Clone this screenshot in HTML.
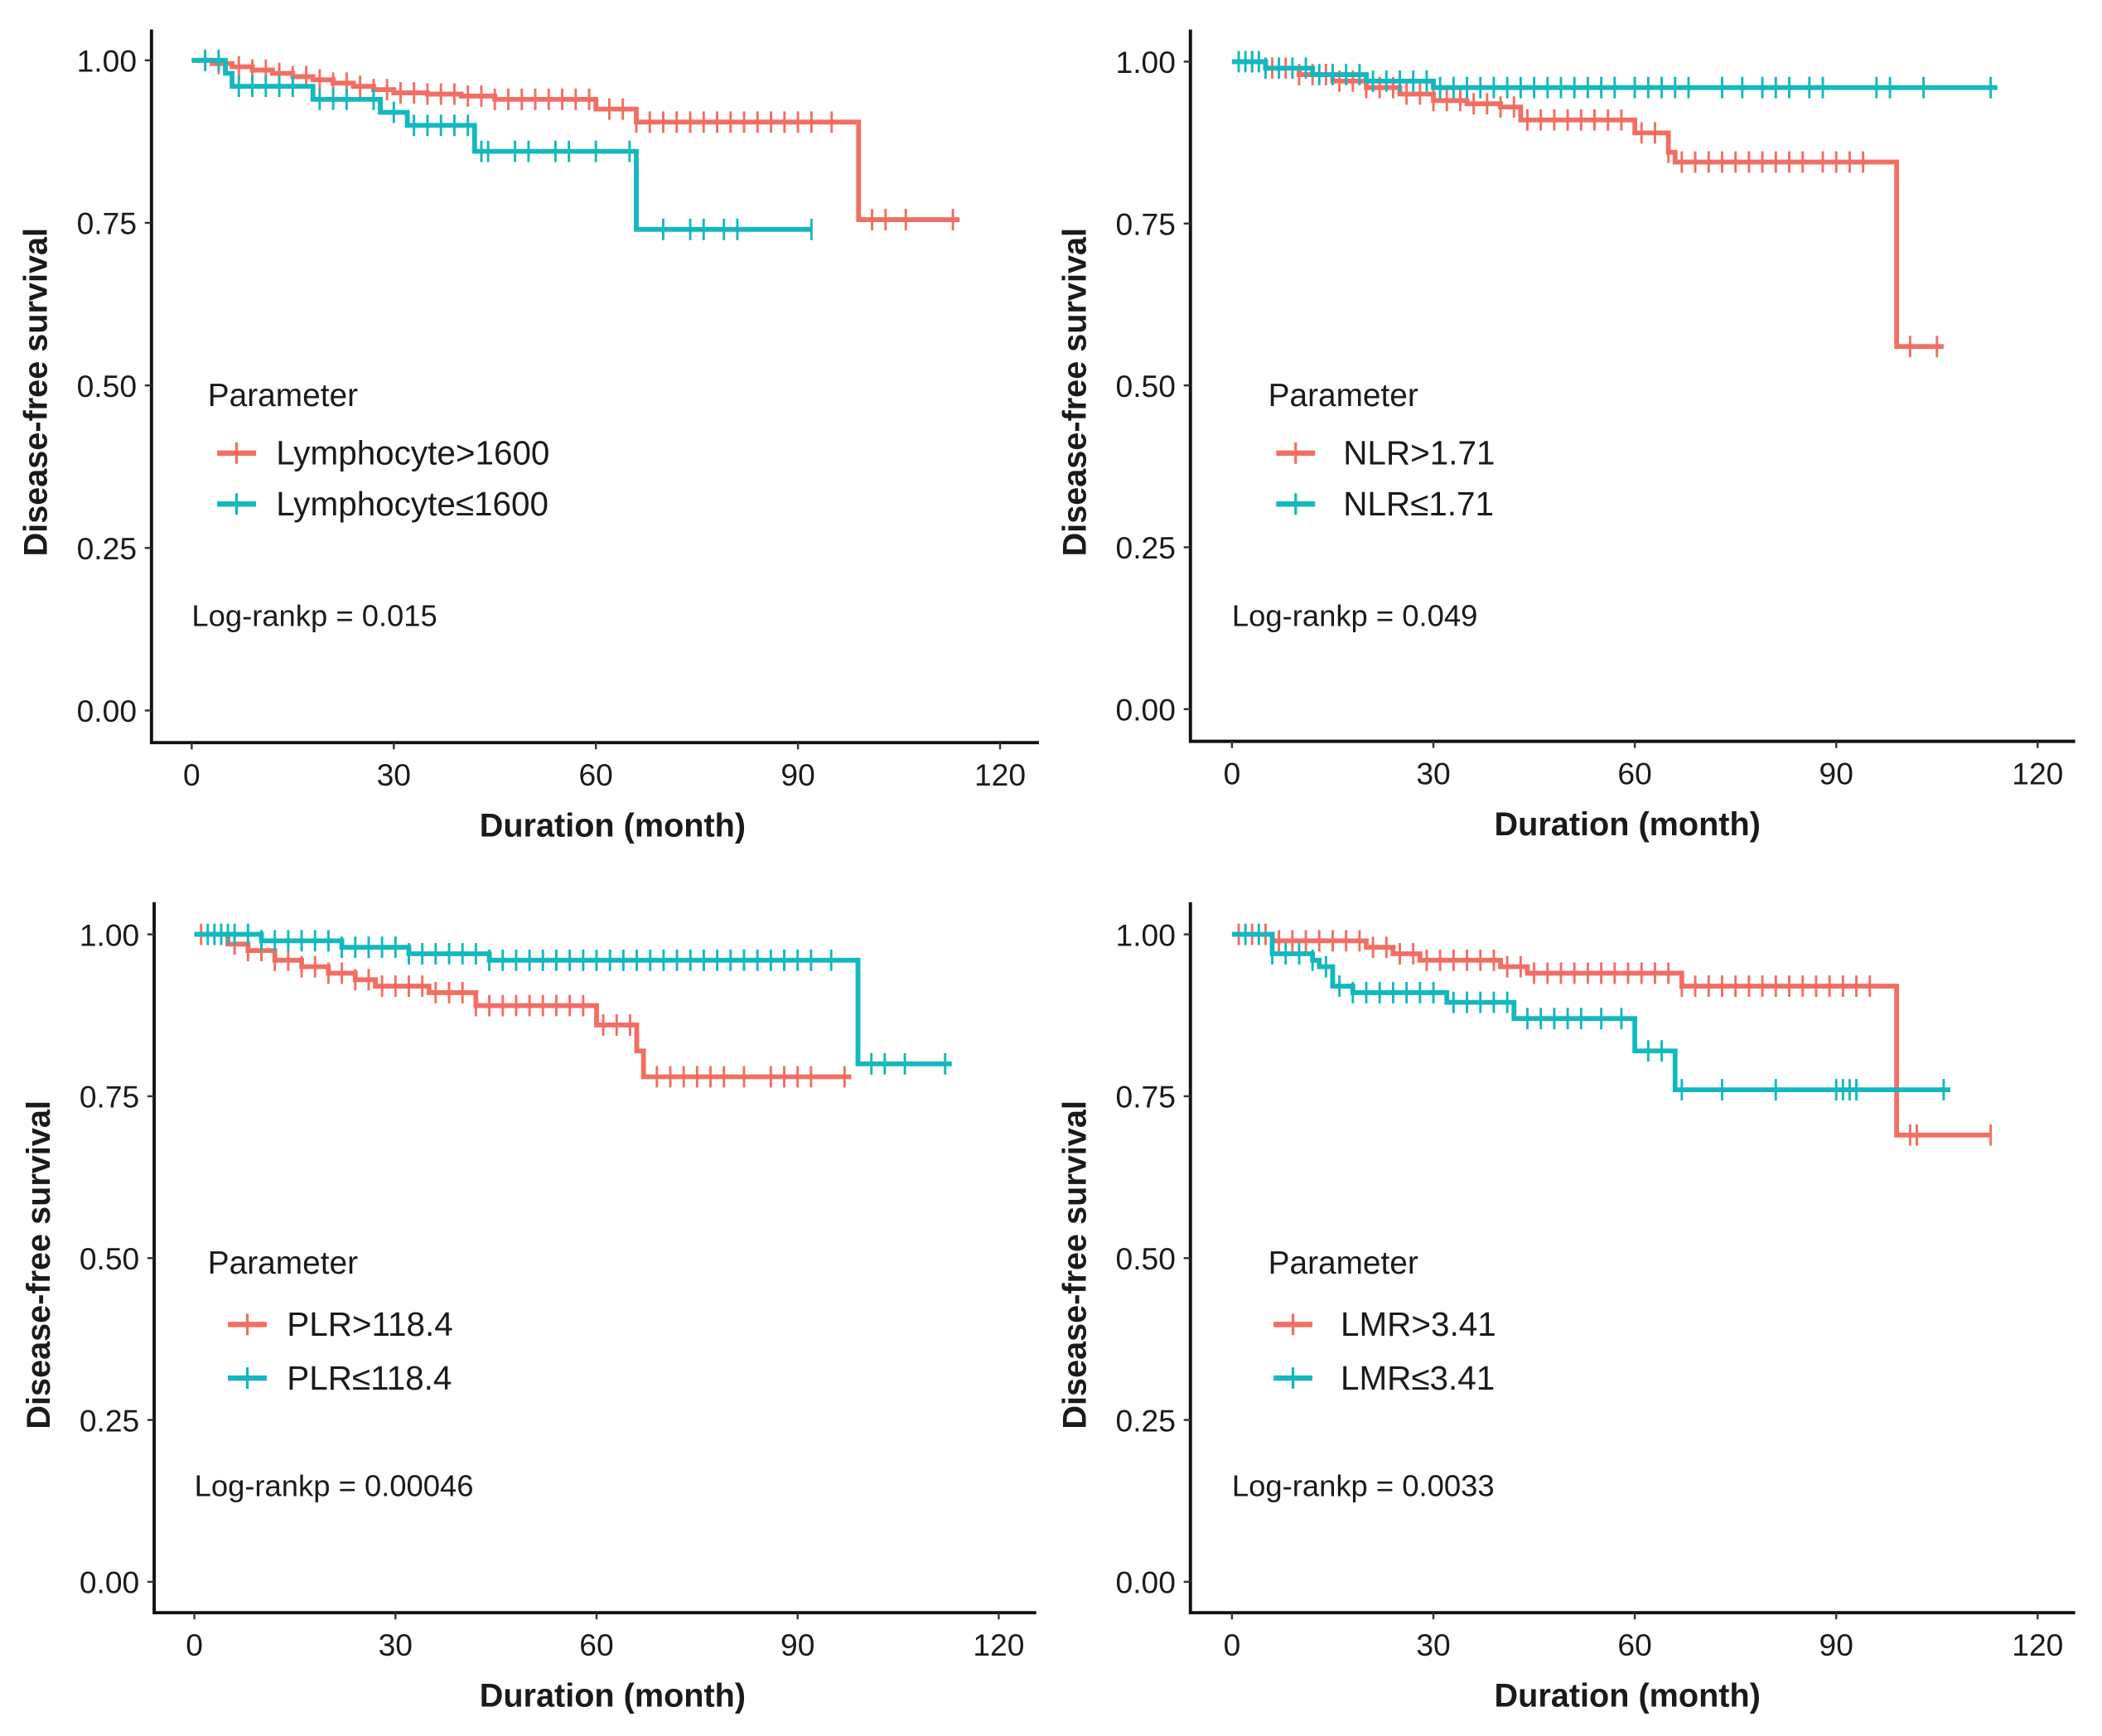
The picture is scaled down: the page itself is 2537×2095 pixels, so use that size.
<!DOCTYPE html>
<html><head><meta charset="utf-8">
<style>
html,body{margin:0;padding:0;background:#fff;}
svg{display:block;}
text{font-family:"Liberation Sans",Arial,sans-serif;fill:#1a1a1a;}
</style></head>
<body>
<svg id="fig" width="2537" height="2095" viewBox="0 0 1568 1295" preserveAspectRatio="none" xmlns="http://www.w3.org/2000/svg"></svg>
<script>
// ---- data (times in months, survival probabilities) ----
const xTicks = [0, 30, 60, 90, 120];
const yTicks = [0, 0.25, 0.5, 0.75, 1.0];
const yTickLabels = ["0.00", "0.25", "0.50", "0.75", "1.00"];
const panelNames = ["lymphocyte", "nlr", "plr", "lmr"];
const legendHigh = ["Lymphocyte>1600", "NLR>1.71", "PLR>118.4", "LMR>3.41"];
const legendLow = ["Lymphocyte\u22641600", "NLR\u22641.71", "PLR\u2264118.4", "LMR\u22643.41"];
const pValues = ["Log-rankp = 0.015", "Log-rankp = 0.049", "Log-rankp = 0.00046", "Log-rankp = 0.0033"];

// panel 1
const p1RedT = [0,3,6,9,12,15,18,21,24,27,30,35,40,45,60,66,99];
const p1RedS = [1,0.995,0.99,0.985,0.98,0.975,0.97,0.965,0.96,0.955,0.95,0.948,0.945,0.94,0.925,0.905,0.755];
const p1RedEnd = 114;
const p1RedCens = [2,4,7,9,11,13,15,17,19,21,23,25,27,29,31,33,35,37,39,41,43,45,47,49,51,53,55,57,59,62,64,66,68,70,72,74,76,78,80,82,84,86,88,90,92,95,101,103,106,113];
const p1CyT = [0,5,6,18,28,32,42,66];
const p1CyS = [1,0.98,0.96,0.94,0.92,0.90,0.86,0.74];
const p1CyEnd = 92;
const p1CyCens = [2,4,7,9,11,13,15,19,21,23,27,30,33,35,37,39,41,43,44,48,50,54,56,60,65,70,74,76,79,81,92];
// panel 2
const p2RedT = [0,5,10,15,20,25,30,35,40,43,60,65,66,99];
const p2RedS = [1,0.99,0.98,0.97,0.96,0.95,0.94,0.935,0.93,0.91,0.89,0.86,0.845,0.56];
const p2RedEnd = 106;
const p2RedCens = [3,6,8,10,12,14,16,18,20,22,24,26,28,30,32,34,36,38,40,42,44,46,48,50,52,54,56,58,61,63,65,67,69,71,73,75,77,79,81,83,85,88,90,92,94,101,105];
const p2CyT = [0,5,12,20,30];
const p2CyS = [1,0.99,0.98,0.97,0.96];
const p2CyEnd = 114;
const p2CyCens = [1,2,3,4,5,7,9,11,13,15,17,19,21,23,25,27,29,31,33,35,37,39,41,43,45,47,49,51,53,55,57,60,62,64,66,68,73,76,79,81,83,86,88,96,98,103,113];
// panel 3
const p3RedT = [0,5,8,12,16,20,24,27,35,42,60,66,67];
const p3RedS = [1,0.985,0.975,0.96,0.95,0.94,0.93,0.92,0.91,0.89,0.86,0.82,0.78];
const p3RedEnd = 98;
const p3RedCens = [1,4,6,8,10,12,14,16,18,20,22,24,26,28,30,32,34,36,38,40,42,44,46,48,50,52,54,56,58,61,63,65,69,71,73,75,77,79,82,86,88,90,92,97];
const p3CyT = [0,10,22,32,44,99];
const p3CyS = [1,0.99,0.98,0.97,0.96,0.80];
const p3CyEnd = 113;
const p3CyCens = [2,3,4,5,6,8,10,12,14,16,18,20,22,24,26,28,30,32,34,36,38,40,42,44,46,48,50,52,54,56,58,60,62,64,66,68,70,72,74,76,78,80,82,84,86,88,90,92,95,101,103,106,112];
// panel 4
const p4RedT = [0,6,20,24,28,40,44,67,99];
const p4RedS = [1,0.99,0.98,0.97,0.96,0.95,0.94,0.92,0.69];
const p4RedEnd = 113;
const p4RedCens = [1,3,5,7,9,11,13,15,17,19,21,23,25,27,29,31,33,35,37,39,41,43,45,47,49,51,53,55,57,59,61,63,65,67,69,71,73,75,77,79,81,83,85,87,89,91,93,95,101,102,113];
const p4CyT = [0,6,12,13,15,18,32,42,60,66];
const p4CyS = [1,0.97,0.96,0.95,0.92,0.91,0.895,0.87,0.82,0.76];
const p4CyEnd = 107;
const p4CyCens = [2,4,6,8,10,12,14,16,18,20,22,24,26,28,30,33,35,37,39,41,44,46,48,50,52,55,58,62,64,67,73,81,90,91,92,93,106];

const series = [
  [[p1RedT,p1RedS,p1RedEnd,p1RedCens],[p1CyT,p1CyS,p1CyEnd,p1CyCens]],
  [[p2RedT,p2RedS,p2RedEnd,p2RedCens],[p2CyT,p2CyS,p2CyEnd,p2CyCens]],
  [[p3RedT,p3RedS,p3RedEnd,p3RedCens],[p3CyT,p3CyS,p3CyEnd,p3CyCens]],
  [[p4RedT,p4RedS,p4RedEnd,p4RedCens],[p4CyT,p4CyS,p4CyEnd,p4CyCens]]
];
const COLORS = ["#F26E63", "#13B8BE"];

// ---- layout ----
const panels = [
  {axX:113, x0:143, x120:746, xEnd:775, y1:45, y0:530, axY:554, top:22, xtOff:13},
  {axX:888, x0:919, x120:1520, xEnd:1548, y1:46, y0:529, axY:553, top:22, xtOff:-4},
  {axX:115, x0:145, x120:745, xEnd:773, y1:697, y0:1180, axY:1203, top:673, xtOff:13},
  {axX:888, x0:919, x120:1520, xEnd:1548, y1:697, y0:1180, axY:1203, top:673, xtOff:-4}
];
const NS = "http://www.w3.org/2000/svg";
const svg = document.getElementById("fig");
function mk(tag, attrs, parent, txt){
  const e = document.createElementNS(NS, tag);
  for (const k in attrs) e.setAttribute(k, attrs[k]);
  if (txt !== undefined) e.textContent = txt;
  parent.appendChild(e);
  return e;
}
function survAt(T,S,t){ let s=S[0]; for(let i=0;i<T.length;i++){ if(T[i]<=t) s=S[i]; } return s; }

panels.forEach((P, pi) => {
  const g = mk("g", {}, svg);
  
  
  const sx = t => P.x0 + (P.x120 - P.x0) * t / 120;
  const sy = v => P.y0 - (P.y0 - P.y1) * v;

  // axes
  const ax = mk("path", {d:`M${P.axX},${P.top} V${P.axY} H${P.xEnd}`, stroke:"#111", "stroke-width":2.4, fill:"none"}, g);
  
  
  yTicks.forEach((v, i) => {
    const y = sy(v);
    mk("line", {x1:P.axX-5, x2:P.axX, y1:y, y2:y, stroke:"#333", "stroke-width":1.5}, g);
    const t = mk("text", {x:P.axX-11, y:y+8.5, "text-anchor":"end", "font-size":23}, g, yTickLabels[i]);
    
    
  });
  xTicks.forEach(v => {
    const x = sx(v);
    mk("line", {x1:x, x2:x, y1:P.axY, y2:P.axY+5, stroke:"#333", "stroke-width":1.5}, g);
    const t = mk("text", {x:x, y:P.axY+32, "text-anchor":"middle", "font-size":23}, g, String(v));
    
    
  });
  const xt = mk("text", {x:(P.axX+P.xEnd)/2+P.xtOff, y:P.axY+70, "text-anchor":"middle", "font-size":24.5, "font-weight":"bold"}, g, "Duration (month)");
  
  
  const ymid = (P.y0 + P.y1)/2 + 5;
  const yt = mk("text", {x:0, y:0, transform:`translate(${P.axX-78},${ymid}) rotate(-90)`, "text-anchor":"middle", "font-size":24.5, "font-weight":"bold"}, g, "Disease-free survival");
  
  

  // curves
  series[pi].forEach((s, si) => {
    const [T, S, end, cens] = s;
    let d = `M${sx(T[0])},${sy(S[0])}`;
    for (let i = 1; i < T.length; i++) d += ` H${sx(T[i])} V${sy(S[i])}`;
    d += ` H${sx(end)}`;
    const c = mk("path", {d, stroke:COLORS[si], "stroke-width":3.6, fill:"none"}, g);
    
    
    cens.forEach(t => {
      const x = sx(t), y = sy(survAt(T,S,t));
      const m = mk("line", {x1:x, x2:x, y1:y-8, y2:y+8, stroke:COLORS[si], "stroke-width":1.8}, g);
      
      
    });
  });

  // legend
  const top = pi < 2;
  const lx = P.axX + (pi===0 ? 42 : (pi===1 ? 58 : (pi===2 ? 40 : 58)));
  const lyT = top ? 303 : 950;
  const ly1 = top ? 338 : 988, ly2 = top ? 376 : 1028;
  const lineX = pi===0 ? 162 : pi===1 ? 952 : pi===2 ? 170 : 950;
  const txtX = pi===0 ? 206 : pi===1 ? 1002 : pi===2 ? 214 : 1000;
  const lt = mk("text", {x:lx, y:lyT, "font-size":24}, g, "Parameter");
  
  
  [[ly1, legendHigh[pi], 0], [ly2, legendLow[pi], 1]].forEach(([y, label, ci]) => {
    const e = mk("g", {}, g);
    
    
    mk("line", {x1:lineX, x2:lineX+29, y1:y, y2:y, stroke:COLORS[ci], "stroke-width":4}, e);
    mk("line", {x1:lineX+14.5, x2:lineX+14.5, y1:y-8, y2:y+8, stroke:COLORS[ci], "stroke-width":2}, e);
    mk("text", {x:txtX, y:y+8.5, "font-size":25}, e, label);
  });
  const pv = mk("text", {x:P.x0, y: top ? 467 : 1116, "font-size":22.5}, g, pValues[pi]);
  
  
});
</script>
</body></html>
